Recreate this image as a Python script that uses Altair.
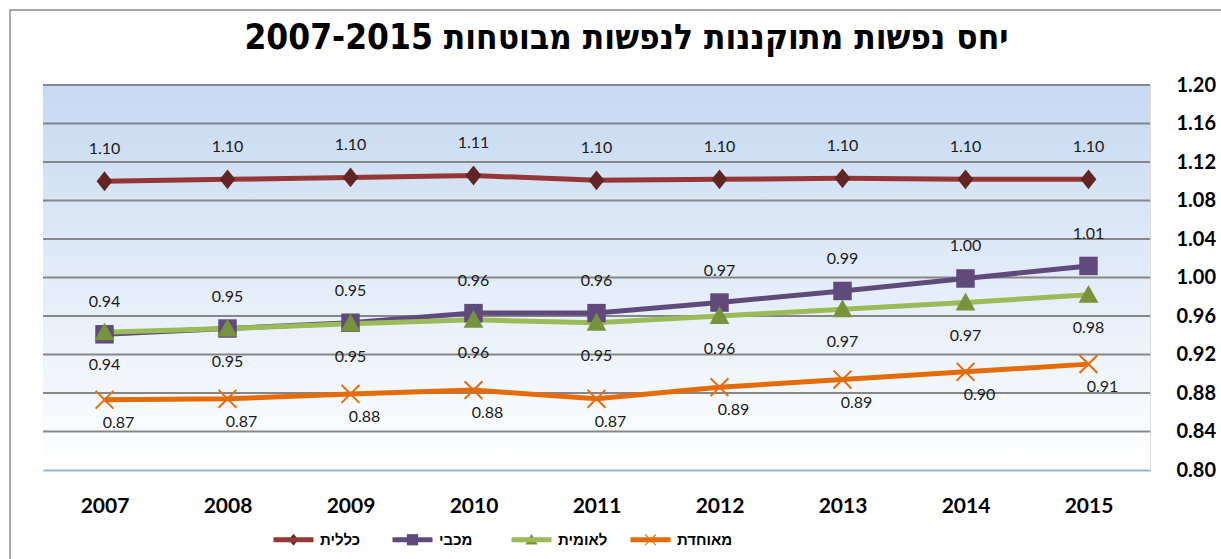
import altair as alt
import pandas as pd

years = ["2007", "2008", "2009", "2010", "2011", "2012", "2013", "2014", "2015"]
series_names = ["כללית", "מכבי", "לאומית", "מאוחדת"]
clalit = [1.100, 1.102, 1.104, 1.106, 1.101, 1.102, 1.103, 1.102, 1.102]
maccabi = [0.941, 0.947, 0.953, 0.963, 0.963, 0.974, 0.986, 0.999, 1.012]
leumit = [0.943, 0.947, 0.952, 0.956, 0.953, 0.960, 0.967, 0.974, 0.982]
meuhedet = [0.873, 0.874, 0.879, 0.883, 0.874, 0.886, 0.894, 0.902, 0.910]
y_ticks = [0.80, 0.84, 0.88, 0.92, 0.96, 1.00, 1.04, 1.08, 1.12, 1.16, 1.20]
title_text = "יחס נפשות מתוקננות לנפשות מבוטחות 2007-2015"

line_colors = ["#953735", "#604a7b", "#9bbb59", "#e36c09"]
marker_colors = ["#632523", "#604a7b", "#77933c", "#e36c09"]

# custom symbol paths (common extent so legend entries line up)
ext = "M-1,-0.3M1,0.3"
a, d = 0.27, 0.021
x_path = (
    ext
    + f"M{-a+d},{-a-d}L{a+d},{a-d}L{a-d},{a+d}L{-a-d},{-a+d}Z"
    + f"M{-a-d},{a-d}L{a-d},{-a-d}L{a+d},{-a+d}L{-a+d},{a+d}Z"
)
shape_paths = [
    ext + "M0,-0.3L0.24,0L0,0.3L-0.24,0Z",
    ext + "M-0.28,-0.28H0.28V0.28H-0.28Z",
    ext + "M0,-0.3L0.3,0.24L-0.3,0.24Z",
    x_path,
]
line_symbol = ext + "M-1,0H1"

rows = []
for name, vals in zip(series_names, [clalit, maccabi, leumit, meuhedet]):
    for yr, v in zip(years, vals):
        rows.append({"year": yr, "series": name, "value": v})
df = pd.DataFrame(rows)
grid_df = pd.DataFrame({"value": y_ticks[1:]})
one = pd.DataFrame({"k": [0]})

LAT = "Lato"
HEB = "Liberation Sans"
W, H = 1107, 385

y_enc = alt.Y(
    "value:Q",
    scale=alt.Scale(domain=[0.80, 1.20], nice=False, zero=False),
    axis=alt.Axis(
        orient="right", title=None, values=y_ticks, format=".2f", grid=False,
        domain=False, ticks=False, labelFont=LAT, labelFontSize=20,
        labelFontWeight="bold", labelColor="#000000", labelPadding=26,
        labelOverlap=False,
    ),
)
x_enc = alt.X(
    "year:O",
    sort=years,
    scale=alt.Scale(type="point", padding=0.5),
    axis=alt.Axis(
        title=None, labelAngle=0, ticks=False, grid=False, domainColor="#95b3d7",
        domainWidth=2, labelFont=LAT, labelFontSize=21, labelFontWeight="bold",
        labelColor="#000000", labelPadding=25, zindex=1,
    ),
)

leg_common = dict(
    orient="none", legendX=228, legendY=432, direction="horizontal", title=None,
    symbolSize=1600, symbolStrokeWidth=5, labelFont=HEB, labelFontSize=15,
    labelFontWeight="bold", labelColor="#000000", labelOffset=4,
    columnPadding=6, padding=0, gridAlign="all",
)

bg = alt.Chart(one).mark_rect(
    fill={"gradient": "linear", "x1": 0, "x2": 0, "y1": 0, "y2": 1,
          "stops": [{"offset": 0, "color": "#c5d9f1"}, {"offset": 1, "color": "#ffffff"}]}
).encode(x=alt.value(0), x2=alt.value("width"), y=alt.value(0), y2=alt.value("height"))

grid = alt.Chart(grid_df).mark_rule(color="#868686", strokeWidth=2).encode(y=y_enc)

lines = alt.Chart(df).mark_line(strokeWidth=5).encode(
    x=x_enc, y=y_enc,
    color=alt.Color("series:N", sort=series_names, scale=alt.Scale(range=line_colors),
                    legend=alt.Legend(symbolType=line_symbol, labelOpacity=0, **leg_common)),
    order=alt.Order("year:O"),
)

points = alt.Chart(df).mark_point(filled=True, size=4356, opacity=1).encode(
    x=x_enc, y=y_enc,
    shape=alt.Shape("series:N", scale=alt.Scale(domain=series_names, range=shape_paths),
                    legend=alt.Legend(symbolStrokeColor="transparent", **leg_common)),
    fill=alt.Fill("series:N", scale=alt.Scale(domain=series_names, range=marker_colors),
                  legend=alt.Legend(symbolStrokeColor="transparent", **leg_common)),
)

txt_style = dict(font=LAT, fontSize=16, color="#1a1a1a")
above = alt.Chart(df).transform_filter(
    alt.FieldOneOfPredicate(field="series", oneOf=series_names[:2])
).mark_text(dy=-32, **txt_style).encode(x=x_enc, y=y_enc, text=alt.Text("value:Q", format=".2f"))
below = alt.Chart(df).transform_filter(
    alt.FieldEqualPredicate(field="series", equal=series_names[2])
).mark_text(dy=33, **txt_style).encode(x=x_enc, y=y_enc, text=alt.Text("value:Q", format=".2f"))
below_right = alt.Chart(df).transform_filter(
    alt.FieldEqualPredicate(field="series", equal=series_names[3])
).mark_text(dx=14, dy=23, **txt_style).encode(x=x_enc, y=y_enc, text=alt.Text("value:Q", format=".2f"))

border = alt.Chart(one).mark_rect(fill=None, stroke="#8c8c8c", strokeWidth=1.5).encode(
    x=alt.value(-33), x2=alt.value(1190), y=alt.value(-75), y2=alt.value(490)
)

chart = alt.layer(bg, grid, lines, points, above, below, below_right, border).resolve_scale(
    color="independent"
).properties(
    width=W, height=H,
    title=alt.TitleParams(
        text=title_text, font="DejaVu Sans Condensed", fontSize=35, fontWeight="bold",
        anchor="middle", frame="group", dx=30, offset=-47, color="#000000",
    ),
    autosize=alt.AutoSizeParams(type="none"),
    padding={"left": 43, "top": 85, "right": 71, "bottom": 89},
).configure_view(stroke=None).configure(background="#ffffff")

chart.save("out.html", embed_options={"renderer": "svg", "actions": False})
